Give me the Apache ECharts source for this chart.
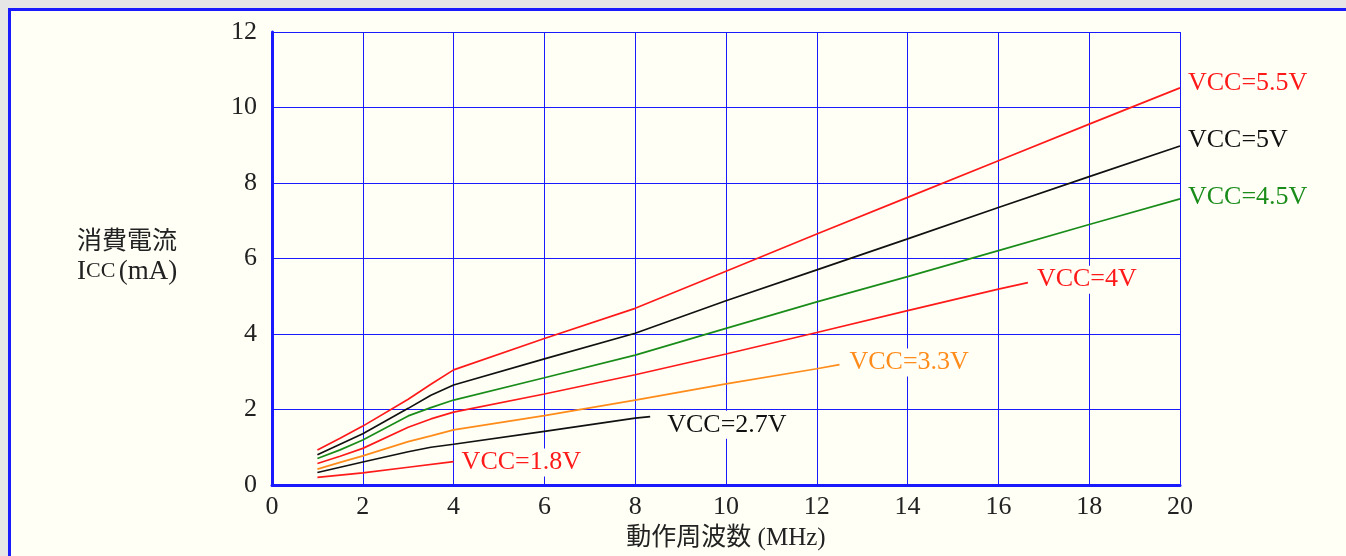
<!DOCTYPE html>
<html>
<head>
<meta charset="utf-8">
<script src="https://cdn.jsdelivr.net/npm/echarts@6/dist/echarts.min.js"></script>
<style>
html,body{margin:0;padding:0;width:1346px;height:556px;overflow:hidden;background:#e6e6e6;}
#frame{position:absolute;left:8px;top:8px;width:1400px;height:600px;border:3px solid #1a1aff;background:#fffff6;}
#c{position:absolute;left:0;top:0;width:1346px;height:556px;}
</style>
</head>
<body>
<div id="frame"></div>
<div id="c"></div>
<script>
// ---- data ----
const freqFull = [1, 1.5, 2, 3, 3.5, 4, 6, 8, 10, 12, 14, 16, 18, 20];
const icc55 = [0.93, 1.24, 1.56, 2.27, 2.67, 3.05, 3.88, 4.68, 5.66, 6.65, 7.62, 8.59, 9.56, 10.52];
const icc50 = [0.80, 1.08, 1.36, 2.03, 2.38, 2.65, 3.34, 4.02, 4.88, 5.70, 6.52, 7.35, 8.17, 8.98];
const icc45 = [0.70, 0.93, 1.19, 1.83, 2.05, 2.25, 2.84, 3.44, 4.15, 4.85, 5.52, 6.21, 6.90, 7.58];
const freq40 = [1, 1.5, 2, 3, 3.5, 4, 6, 8, 10, 12, 14, 16, 16.65];
const icc40 = [0.57, 0.76, 0.97, 1.53, 1.75, 1.93, 2.41, 2.92, 3.47, 4.04, 4.62, 5.19, 5.36];
const freq33 = [1, 1.5, 2, 3, 3.5, 4, 6, 8, 10, 12, 12.5];
const icc33 = [0.42, 0.60, 0.77, 1.15, 1.30, 1.46, 1.84, 2.25, 2.68, 3.08, 3.19];
const freq27 = [1, 1.5, 2, 3, 3.5, 4, 6, 8, 8.33];
const icc27 = [0.33, 0.47, 0.61, 0.88, 1.00, 1.08, 1.42, 1.77, 1.81];
const freq18 = [1, 2, 3, 4];
const icc18 = [0.20, 0.32, 0.47, 0.62];
const seriesNames = ['VCC=5.5V', 'VCC=5V', 'VCC=4.5V', 'VCC=4V', 'VCC=3.3V', 'VCC=2.7V', 'VCC=1.8V'];
const xTicks = [0, 2, 4, 6, 8, 10, 12, 14, 16, 18, 20];
const yTicks = [0, 2, 4, 6, 8, 10, 12];
const xTitle = '動作周波数 (MHz)';
const yTitle1 = '消費電流';

// ---- styling ----
const BG = '#fffff6';
const BLUE = '#1a1aff';
const SERIF = "'Liberation Serif', 'Noto Sans CJK JP', serif";
const colors = ['#ff1a1a', '#111111', '#1a8c1a', '#ff1a1a', '#ff8c1a', '#111111', '#ff1a1a'];
const offsets = [[7, -5], [7, -6], [7, -2], [8, -3], [9, -2], [16, 8], [7, 1]];
const xs = [freqFull, freqFull, freqFull, freq40, freq33, freq27, freq18];
const ys = [icc55, icc50, icc45, icc40, icc33, icc27, icc18];

const zip = (a, b) => a.map((v, i) => [v, b[i]]);

const series = seriesNames.map((name, k) => ({
  name: name,
  type: 'line',
  data: zip(xs[k], ys[k]),
  showSymbol: false,
  smooth: false,
  lineStyle: { color: colors[k], width: 1.7 },
  itemStyle: { color: colors[k] },
  z: 3,
  endLabel: {
    show: true,
    formatter: '{a}',
    color: colors[k],
    fontFamily: SERIF,
    fontSize: 26,
    backgroundColor: BG,
    padding: [1, 1],
    distance: 0,
    offset: offsets[k]
  },
  labelLayout: { hideOverlap: false }
}));

const chart = echarts.init(document.getElementById('c'));
chart.setOption({
  backgroundColor: 'transparent',
  animation: false,
  grid: { left: 272, right: 166, top: 32, bottom: 71, containLabel: false },
  xAxis: {
    type: 'value', min: 0, max: 20, interval: 2,
    axisLine: { show: true, onZero: false, lineStyle: { color: BLUE, width: 3 } },
    axisTick: { show: false },
    splitLine: { show: true, lineStyle: { color: BLUE, width: 1 } },
    axisLabel: {
      color: '#222', fontFamily: SERIF, fontSize: 26, margin: 9,
      formatter: v => xTicks.includes(v) ? String(v) : ''
    },
    name: xTitle,
    nameLocation: 'middle',
    nameGap: 41,
    nameTextStyle: { color: '#222', fontFamily: SERIF, fontSize: 25 }
  },
  yAxis: {
    type: 'value', min: 0, max: 12, interval: 2,
    axisLine: { show: true, onZero: false, lineStyle: { color: BLUE, width: 3 } },
    axisTick: { show: false },
    splitLine: { show: true, lineStyle: { color: BLUE, width: 1 } },
    axisLabel: {
      color: '#222', fontFamily: SERIF, fontSize: 26, margin: 15,
      formatter: v => yTicks.includes(v) ? String(v) : ''
    }
  },
  graphic: [
    {
      type: 'text', left: 77, top: 227,
      style: { text: yTitle1, font: "25px 'Noto Sans CJK JP', sans-serif", fill: '#222' }
    },
    {
      type: 'text', left: 77, top: 258,
      style: {
        text: '{i|I}{c|CC} {n|(mA)}',
        rich: {
          i: { fontFamily: SERIF, fontSize: 27, fill: '#222', color: '#222' },
          c: { fontFamily: SERIF, fontSize: 22, fill: '#222', color: '#222' },
          n: { fontFamily: SERIF, fontSize: 27, fill: '#222', color: '#222' }
        }
      }
    }
  ],
  series: series
});
</script>
</body>
</html>
